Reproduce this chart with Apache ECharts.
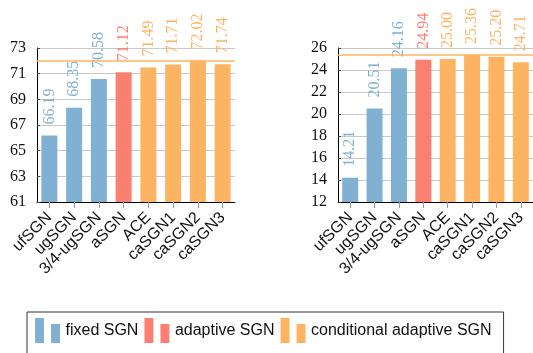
<!DOCTYPE html>
<html><head><meta charset="utf-8">
<script src="https://cdn.jsdelivr.net/npm/echarts@6/dist/echarts.min.js"></script>
<style>html,body{margin:0;padding:0;background:#fff}#c{width:533px;height:353px}</style>
</head><body><div id="c"></div>
<script>
const categories = ['ufSGN','ugSGN','3/4-ugSGN','aSGN','ACE','caSGN1','caSGN2','caSGN3'];
const leftValues = [66.19, 68.35, 70.58, 71.12, 71.49, 71.71, 72.02, 71.74];
const rightValues = [14.21, 20.51, 24.16, 24.94, 25.00, 25.36, 25.20, 24.71];
const groupOf = ['fixed','fixed','fixed','adaptive','conditional','conditional','conditional','conditional'];
const groupNames = {fixed:'fixed SGN', adaptive:'adaptive SGN', conditional:'conditional adaptive SGN'};
const groupColors = {fixed:'#80B1D3', adaptive:'#FB8072', conditional:'#FDB462'};
const leftTicks = {min:61, max:73, interval:2};
const rightTicks = {min:12, max:26, interval:2};

const serif = 'Liberation Serif';
const sans = 'Liberation Sans';

function yAxis(idx, t){
  return {gridIndex:idx, type:'value', min:t.min, max:t.max, interval:t.interval,
    axisLine:{show:true, lineStyle:{color:'#000', width:1}},
    axisTick:{show:true, inside:true, length:3, lineStyle:{color:'#444'}},
    splitLine:{show:true, lineStyle:{color:'#c8c8c8', width:1}},
    axisLabel:{fontFamily:serif, fontSize:16, color:'#111', margin:11}};
}
function xAxis(idx){
  return {gridIndex:idx, type:'category', data:categories,
    axisLine:{show:true, lineStyle:{color:'#000', width:1}},
    axisTick:{show:true, alignWithLabel:true, length:6, lineStyle:{color:'#999'}},
    axisLabel:{rotate:45, fontFamily:sans, fontSize:16, color:'#111', margin:13, interval:0}};
}
function seriesFor(idx, values){
  return Object.keys(groupNames).map(g => {
    const s = {
      name: groupNames[g], type:'bar', xAxisIndex:idx, yAxisIndex:idx,
      barWidth:16, barGap:'-100%',
      itemStyle:{color:groupColors[g]},
      data: values.map((v,i) => groupOf[i]===g ? v : '-'),
      label:{show:true, position:'top', rotate:90, align:'left', verticalAlign:'middle',
        distance:11, fontFamily:serif, fontSize:16, color:groupColors[g],
        formatter: p => Number(p.value).toFixed(2)}
    };
    if (g==='conditional') {
      s.markLine = {silent:true, symbol:['none','none'], label:{show:false},
        lineStyle:{color:groupColors[g], type:'solid', width:1.5},
        data:[{type:'max'}]};
    }
    return s;
  });
}

const chart = echarts.init(document.getElementById('c'), null, {renderer:'canvas'});
chart.setOption({
  animation:false,
  grid:[{left:37, top:48, width:198, height:154},
        {left:338, top:48, width:198, height:154}],
  xAxis:[xAxis(0), xAxis(1)],
  yAxis:[yAxis(0,leftTicks), yAxis(1,rightTicks)],
  legend:{left:27, top:312, padding:[6,12,30,8], borderColor:'#333', borderWidth:1,
    itemWidth:26, itemHeight:25, itemGap:6,
    icon:'path://M0,0h9v25h-9z M16,6h9v19h-9z',
    textStyle:{fontFamily:sans, fontSize:16, color:'#111'},
    data:Object.values(groupNames)},
  series:[...seriesFor(0,leftValues), ...seriesFor(1,rightValues)]
});
</script></body></html>
